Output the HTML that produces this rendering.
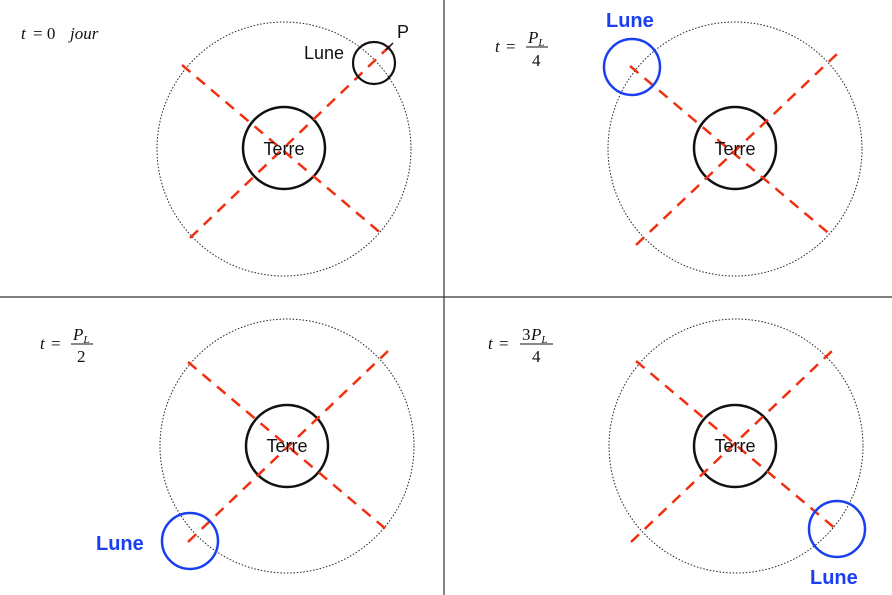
<!DOCTYPE html>
<html><head><meta charset="utf-8"><style>
html,body{margin:0;padding:0;background:#fff;}
svg{display:block;}
.m{font-family:"Liberation Serif",serif;font-style:italic;font-size:17px;fill:#111;}
.n{font-family:"Liberation Serif",serif;font-size:17px;fill:#111;}
.t{font-family:"Liberation Sans",sans-serif;font-size:18px;fill:#111;}
.b{font-family:"Liberation Sans",sans-serif;font-size:20px;font-weight:bold;fill:#1a3ff0;}
</style></head><body>
<svg width="892" height="595" viewBox="0 0 892 595" xmlns="http://www.w3.org/2000/svg">
<line x1="444" y1="0" x2="444" y2="595" stroke="#333" stroke-width="1.2"/>
<line x1="0" y1="297" x2="892" y2="297" stroke="#333" stroke-width="1.2"/>
<g fill="none">
<!-- Q1 -->
<circle cx="284" cy="149" r="127" stroke="#222" stroke-width="1" stroke-dasharray="1.5,1.8"/>
<circle cx="284" cy="148" r="41" stroke="#111" stroke-width="2.5"/>
<line x1="182" y1="65" x2="383" y2="235" stroke="#f03010" stroke-width="2.5" stroke-dasharray="11,8"/>
<line x1="190" y1="238" x2="393" y2="43" stroke="#f03010" stroke-width="2.5" stroke-dasharray="11,8"/>
<circle cx="374" cy="63" r="21" stroke="#111" stroke-width="2.2"/>
<line x1="386" y1="50" x2="393" y2="43" stroke="#111" stroke-width="1.5"/>
<!-- Q2 -->
<circle cx="735" cy="149" r="127" stroke="#222" stroke-width="1" stroke-dasharray="1.5,1.8"/>
<circle cx="735" cy="148" r="41" stroke="#111" stroke-width="2.5"/>
<line x1="630" y1="66" x2="832" y2="236" stroke="#f03010" stroke-width="2.5" stroke-dasharray="11,8"/>
<line x1="636" y1="245" x2="838" y2="53" stroke="#f03010" stroke-width="2.5" stroke-dasharray="11,8"/>
<circle cx="632" cy="67" r="28" stroke="#1a3ff0" stroke-width="2.5"/>
<!-- Q3 -->
<circle cx="287" cy="446" r="127" stroke="#222" stroke-width="1" stroke-dasharray="1.5,1.8"/>
<circle cx="287" cy="446" r="41" stroke="#111" stroke-width="2.5"/>
<line x1="188" y1="362" x2="387" y2="530" stroke="#f03010" stroke-width="2.5" stroke-dasharray="11,8"/>
<line x1="188" y1="542" x2="388" y2="351" stroke="#f03010" stroke-width="2.5" stroke-dasharray="11,8"/>
<circle cx="190" cy="541" r="28" stroke="#1a3ff0" stroke-width="2.5"/>
<!-- Q4 -->
<circle cx="736" cy="446" r="127" stroke="#222" stroke-width="1" stroke-dasharray="1.5,1.8"/>
<circle cx="735" cy="446" r="41" stroke="#111" stroke-width="2.5"/>
<line x1="636" y1="361" x2="837" y2="530" stroke="#f03010" stroke-width="2.5" stroke-dasharray="11,8"/>
<line x1="631" y1="542" x2="832" y2="351" stroke="#f03010" stroke-width="2.5" stroke-dasharray="11,8"/>
<circle cx="837" cy="529" r="28" stroke="#1a3ff0" stroke-width="2.5"/>
</g>
<!-- text -->
<text class="t" x="284" y="155" text-anchor="middle">Terre</text>
<text class="t" x="735" y="155" text-anchor="middle">Terre</text>
<text class="t" x="287" y="452" text-anchor="middle">Terre</text>
<text class="t" x="735" y="452" text-anchor="middle">Terre</text>
<text class="t" x="304" y="59">Lune</text>
<text class="t" x="397" y="38">P</text>
<text class="b" x="606" y="27">Lune</text>
<text class="b" x="96" y="550">Lune</text>
<text class="b" x="810" y="584">Lune</text>
<!-- formulas -->
<text class="m" x="21" y="39">t</text><text class="n" x="33" y="39">= 0</text><text class="m" x="70" y="39">jour</text>
<text class="m" x="495" y="52">t</text><text class="n" x="506" y="52">=</text>
<text class="m" x="528" y="43">P<tspan font-size="11" dy="3">L</tspan></text>
<line x1="526" y1="47" x2="548" y2="47" stroke="#111" stroke-width="1"/>
<text class="n" x="532" y="66">4</text>
<text class="m" x="40" y="349">t</text><text class="n" x="51" y="349">=</text>
<text class="m" x="73" y="340">P<tspan font-size="11" dy="3">L</tspan></text>
<line x1="71" y1="344" x2="93" y2="344" stroke="#111" stroke-width="1"/>
<text class="n" x="77" y="362">2</text>
<text class="m" x="488" y="349">t</text><text class="n" x="499" y="349">=</text>
<text class="n" x="522" y="340">3</text><text class="m" x="531" y="340">P<tspan font-size="11" dy="3">L</tspan></text>
<line x1="520" y1="344" x2="553" y2="344" stroke="#111" stroke-width="1"/>
<text class="n" x="532" y="362">4</text>
</svg>
</body></html>
